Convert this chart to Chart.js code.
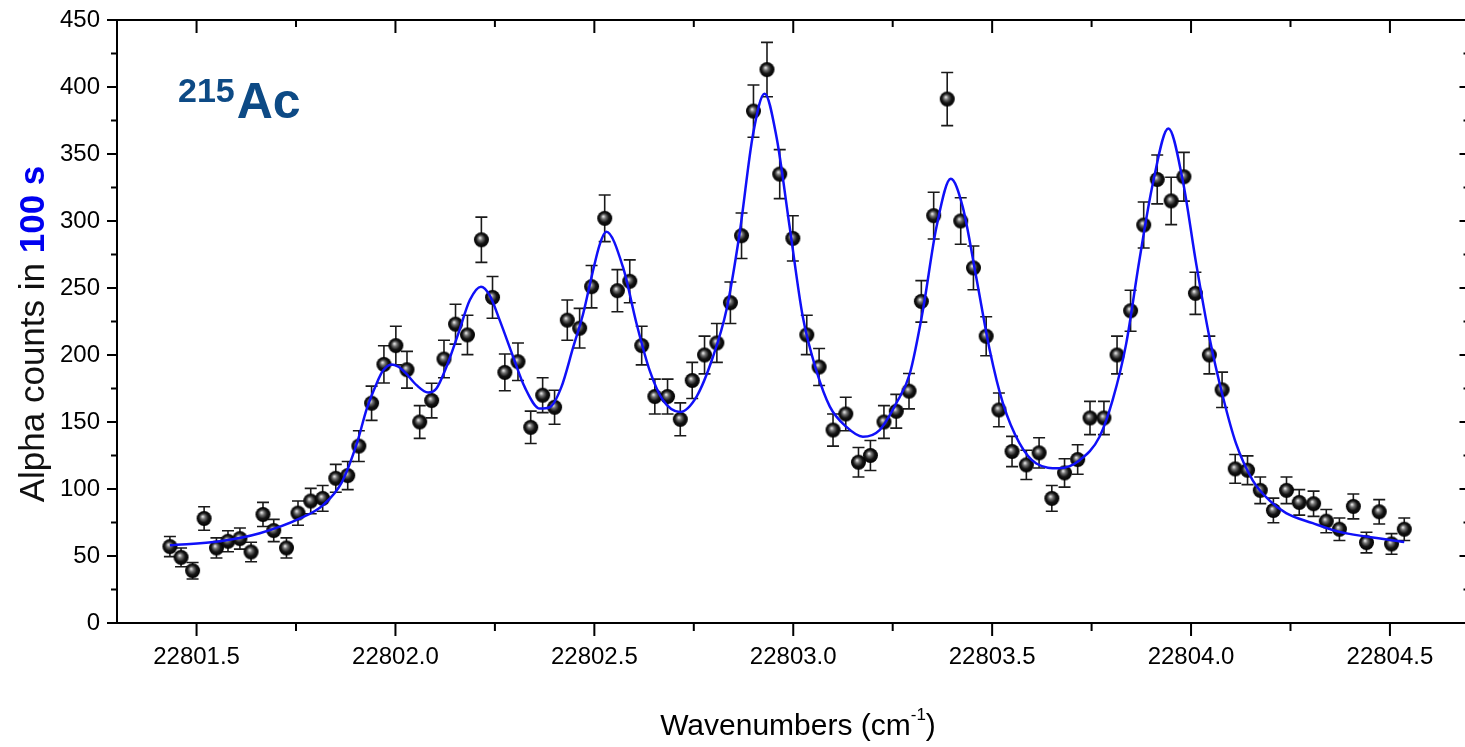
<!DOCTYPE html>
<html>
<head>
<meta charset="utf-8">
<script src="https://cdn.jsdelivr.net/npm/chart.js@4.4.1/dist/chart.umd.min.js"></script>
<style>
  html, body { margin: 0; padding: 0; background: #fff; overflow: hidden; }
  #wrap { position: absolute; left: 0; top: 0; width: 1480px; height: 747px; }
</style>
</head>
<body>
<div id="wrap"><canvas id="spectrum" width="1480" height="747"></canvas></div>
<script>
// measured points (wavenumber in cm-1, alpha counts in 100 s, error)
const wavenumbers = [
  22801.433, 22801.461, 22801.490, 22801.519, 22801.550, 22801.579, 22801.609, 22801.637, 22801.667, 22801.694,
  22801.726, 22801.755, 22801.787, 22801.817, 22801.850, 22801.880, 22801.908, 22801.940, 22801.971, 22802.001,
  22802.029, 22802.061, 22802.091, 22802.122, 22802.151, 22802.181, 22802.216, 22802.244, 22802.275, 22802.308,
  22802.340, 22802.370, 22802.400, 22802.432, 22802.463, 22802.493, 22802.526, 22802.558, 22802.589, 22802.619,
  22802.652, 22802.684, 22802.716, 22802.746, 22802.777, 22802.808, 22802.842, 22802.870, 22802.900, 22802.934,
  22802.966, 22802.999, 22803.034, 22803.065, 22803.100, 22803.132, 22803.164, 22803.194, 22803.228, 22803.259,
  22803.291, 22803.322, 22803.353, 22803.387, 22803.421, 22803.453, 22803.485, 22803.517, 22803.550, 22803.586,
  22803.618, 22803.650, 22803.682, 22803.715, 22803.746, 22803.781, 22803.814, 22803.848, 22803.881, 22803.915,
  22803.950, 22803.982, 22804.011, 22804.046, 22804.078, 22804.111, 22804.142, 22804.174, 22804.207, 22804.240,
  22804.272, 22804.308, 22804.340, 22804.373, 22804.408, 22804.441, 22804.473, 22804.504, 22804.536
];
const counts = [
  57, 49, 39, 78, 56, 61, 63, 53, 81, 69,
  56, 82, 91, 93, 108, 110, 132, 164, 193, 207,
  189, 150, 166, 197, 223, 215, 286, 243, 187, 195,
  146, 170, 161, 226, 220, 251, 302, 248, 255, 207,
  169, 169, 152, 181, 200, 209, 239, 289, 382, 413,
  335, 287, 215, 191, 144, 156, 120, 125, 150, 158,
  173, 240, 304, 391, 300, 265, 214, 159, 128, 118,
  127, 93, 112, 122, 153, 153, 200, 233, 297, 331,
  315, 333, 246, 200, 174, 115, 114, 99, 84, 99,
  90, 89, 76, 70, 87, 60, 83, 59, 70
];
const countErrors = [
  7.5, 7.0, 6.2, 8.8, 7.5, 7.8, 7.9, 7.3, 9.0, 8.3,
  7.5, 9.0, 9.5, 9.6, 10.4, 10.5, 11.5, 12.8, 13.9, 14.4,
  13.7, 12.2, 12.9, 14.0, 14.9, 14.7, 16.9, 15.6, 13.7, 14.0,
  12.1, 13.0, 12.7, 15.0, 14.8, 15.8, 17.4, 15.7, 16.0, 14.4,
  13.0, 13.0, 12.3, 13.5, 14.1, 14.5, 15.5, 17.0, 19.5, 20.3,
  18.3, 16.9, 14.7, 13.8, 12.0, 12.5, 11.0, 11.2, 12.2, 12.6,
  13.2, 15.5, 17.4, 19.8, 17.3, 16.3, 14.6, 12.6, 11.3, 10.9,
  11.3, 9.6, 10.6, 11.0, 12.4, 12.4, 14.1, 15.3, 17.2, 18.2,
  17.7, 18.2, 15.7, 14.1, 13.2, 10.7, 10.7, 9.9, 9.2, 9.9,
  9.5, 9.4, 8.7, 8.4, 9.3, 7.7, 9.1, 7.7, 8.4
];

// fitted curve
const fitX = [
  22801.433, 22801.559, 22801.659, 22801.760, 22801.818, 22801.865, 22801.903, 22801.928, 22801.953, 22801.968,
  22801.990, 22802.006, 22802.024, 22802.053, 22802.082, 22802.103, 22802.128, 22802.158, 22802.187, 22802.215,
  22802.237, 22802.262, 22802.296, 22802.325, 22802.363, 22802.388, 22802.417, 22802.447, 22802.472, 22802.492,
  22802.514, 22802.530, 22802.572, 22802.606, 22802.639, 22802.673, 22802.715, 22802.757, 22802.798, 22802.832,
  22802.865, 22802.899, 22802.928, 22802.958, 22802.991, 22803.024, 22803.058, 22803.092, 22803.133, 22803.175,
  22803.217, 22803.259, 22803.293, 22803.326, 22803.360, 22803.396, 22803.426, 22803.460, 22803.494, 22803.527,
  22803.569, 22803.611, 22803.669, 22803.720, 22803.770, 22803.803, 22803.837, 22803.870, 22803.904, 22803.943,
  22803.979, 22804.013, 22804.046, 22804.080, 22804.113, 22804.155, 22804.197, 22804.239, 22804.306, 22804.373,
  22804.440, 22804.536
];
const fitY = [
  58, 61, 67, 78, 88, 105, 134, 160, 179, 188,
  193, 191.5, 187, 177.5, 172, 175, 191, 216, 241, 251,
  244.5, 226, 198.5, 176, 160, 161, 176, 206, 231, 257,
  283, 292, 265.5, 223.5, 188.5, 166, 157.5, 169, 198.5, 233.5,
  290.5, 365, 395, 362.5, 295.5, 228.5, 188.5, 161.5, 146.5, 139,
  144, 164, 186, 233.5, 295.5, 331.5, 310.5, 258, 203.5, 164,
  134, 119, 115.5, 121.5, 139, 166.5, 208.5, 270.5, 328, 369,
  330.5, 268, 213.5, 169, 134, 106.5, 91.5, 82, 74.5, 68,
  64.5, 60.5
];

const xTickValues = [22801.5, 22802.0, 22802.5, 22803.0, 22803.5, 22804.0, 22804.5];
const xMinorValues = [22801.75, 22802.25, 22802.75, 22803.25, 22803.75, 22804.25];
const yTickValues = [0, 50, 100, 150, 200, 250, 300, 350, 400, 450];
const yMinorValues = [25, 75, 125, 175, 225, 275, 325, 375, 425];

const FONT = "'Liberation Sans', Arial, sans-serif";

function makeSphere(r) {
    const c = document.createElement('canvas');
    c.width = c.height = 2 * r + 2;
    const g = c.getContext('2d');
    const cx = r + 1, cy = r + 1;
    const grad = g.createRadialGradient(cx - 1.5, cy - 2, 0.3, cx, cy, r);
    grad.addColorStop(0, '#e8e8e8');
    grad.addColorStop(0.28, '#707070');
    grad.addColorStop(0.62, '#151515');
    grad.addColorStop(1, '#000');
    g.fillStyle = grad;
    g.beginPath();
    g.arc(cx, cy, r, 0, Math.PI * 2);
    g.fill();
    return c;
}

// error bars under the spheres
const errorBars = {
    id: 'errorBars',
    beforeDatasetsDraw(chart) {
        const ctx = chart.ctx;
        const y = chart.scales.y;
        const meta = chart.getDatasetMeta(0);
        ctx.save();
        ctx.strokeStyle = '#1a1a1a';
        ctx.lineWidth = 1.6;
        meta.data.forEach((pt, i) => {
            const top = y.getPixelForValue(counts[i] + countErrors[i]);
            const bot = y.getPixelForValue(counts[i] - countErrors[i]);
            ctx.beginPath();
            ctx.moveTo(pt.x, top); ctx.lineTo(pt.x, bot);
            ctx.moveTo(pt.x - 6, top); ctx.lineTo(pt.x + 6, top);
            ctx.moveTo(pt.x - 6, bot); ctx.lineTo(pt.x + 6, bot);
            ctx.stroke();
        });
        ctx.restore();
    }
};

// box frame, tick marks and the texts
const frameAndText = {
    id: 'frameAndText',
    afterDraw(chart) {
        const ctx = chart.ctx;
        const a = chart.chartArea;
        const xs = chart.scales.x, ys = chart.scales.y;
        ctx.save();
        ctx.strokeStyle = '#000';
        ctx.lineWidth = 2;
        ctx.strokeRect(a.left, a.top, a.right - a.left, a.bottom - a.top);

        ctx.beginPath();
        xTickValues.forEach(v => {
            const px = xs.getPixelForValue(v);
            ctx.moveTo(px, a.bottom); ctx.lineTo(px, a.bottom + 13);
            ctx.moveTo(px, a.top); ctx.lineTo(px, a.top + 13);
        });
        xMinorValues.forEach(v => {
            const px = xs.getPixelForValue(v);
            ctx.moveTo(px, a.bottom); ctx.lineTo(px, a.bottom + 8);
            ctx.moveTo(px, a.top); ctx.lineTo(px, a.top + 7);
        });
        yTickValues.forEach(v => {
            const py = ys.getPixelForValue(v);
            ctx.moveTo(a.left, py); ctx.lineTo(a.left - 10, py);
            ctx.moveTo(a.right, py); ctx.lineTo(a.right - 10, py);
        });
        yMinorValues.forEach(v => {
            const py = ys.getPixelForValue(v);
            ctx.moveTo(a.left, py); ctx.lineTo(a.left - 6, py);
            ctx.moveTo(a.right, py); ctx.lineTo(a.right - 6, py);
        });
        ctx.stroke();

        // isotope label
        ctx.fillStyle = '#0d4a85';
        ctx.textBaseline = 'alphabetic';
        ctx.font = 'bold 34px ' + FONT;
        ctx.fillText('215', 178, 102);
        const w215 = ctx.measureText('215').width;
        ctx.font = 'bold 50px ' + FONT;
        ctx.fillText('Ac', 178 + w215 + 2, 118);

        // x title
        ctx.fillStyle = '#000';
        ctx.font = '30px ' + FONT;
        const p1 = 'Wavenumbers (cm', p3 = ')';
        const w1 = ctx.measureText(p1).width, w3 = ctx.measureText(p3).width;
        ctx.font = '17px ' + FONT;
        const w2 = ctx.measureText('-1').width;
        let x0 = 798 - (w1 + w2 + w3) / 2;
        ctx.font = '30px ' + FONT;
        ctx.fillText(p1, x0, 735);
        ctx.font = '17px ' + FONT;
        ctx.fillText('-1', x0 + w1, 720);
        ctx.font = '30px ' + FONT;
        ctx.fillText(p3, x0 + w1 + w2, 735);

        // y title
        ctx.translate(44, 334);
        ctx.rotate(-Math.PI / 2);
        ctx.font = '35px ' + FONT;
        const t1 = 'Alpha counts in ';
        const wt1 = ctx.measureText(t1).width;
        ctx.font = 'bold 35px ' + FONT;
        const wt2 = ctx.measureText('100 s').width;
        const s0 = -(wt1 + wt2) / 2;
        ctx.font = '35px ' + FONT;
        ctx.fillStyle = '#111';
        ctx.fillText(t1, s0, 0);
        ctx.font = 'bold 35px ' + FONT;
        ctx.fillStyle = '#0000f0';
        ctx.fillText('100 s', s0 + wt1, 0);
        ctx.restore();
    }
};

const sphere = makeSphere(7.5);

new Chart(document.getElementById('spectrum'), {
    type: 'scatter',
    data: {
        datasets: [{
            label: 'data',
            data: wavenumbers.map((w, i) => ({ x: w, y: counts[i] })),
            pointStyle: sphere,
            pointRadius: 7.5,
            order: 1
        }, {
            type: 'line',
            label: 'fit',
            data: fitX.map((w, i) => ({ x: w, y: fitY[i] })),
            borderColor: '#1010f8',
            borderWidth: 2.5,
            pointRadius: 0,
            fill: false,
            cubicInterpolationMode: 'monotone',
            order: 0
        }]
    },
    options: {
        responsive: false,
        animation: false,
        events: [],
        layout: { padding: { left: 0, top: 20, right: 10.5, bottom: 0 } },
        plugins: { legend: { display: false }, tooltip: { enabled: false } },
        scales: {
            x: {
                type: 'linear',
                min: 22801.3,
                max: 22804.7,
                grid: { display: false, drawTicks: false },
                border: { display: false },
                ticks: {
                    color: '#000',
                    font: { family: FONT, size: 24 },
                    padding: 20,
                    maxRotation: 0,
                    autoSkip: false,
                    callback: v => v.toFixed(1)
                },
                afterBuildTicks: s => { s.ticks = xTickValues.map(v => ({ value: v })); },
                afterFit: s => {
                    s.height = 124;
                    s.paddingLeft = 0; s.paddingRight = 0;
                }
            },
            y: {
                min: 0,
                max: 450,
                grid: { display: false, drawTicks: false },
                border: { display: false },
                ticks: {
                    color: '#000',
                    font: { family: FONT, size: 24 },
                    padding: 17,
                    callback: v => String(v)
                },
                afterBuildTicks: s => { s.ticks = yTickValues.map(v => ({ value: v })); },
                afterFit: s => {
                    s.width = 117;
                    s.paddingTop = 0; s.paddingBottom = 0;
                }
            }
        }
    },
    plugins: [errorBars, frameAndText]
});
</script>
</body>
</html>
